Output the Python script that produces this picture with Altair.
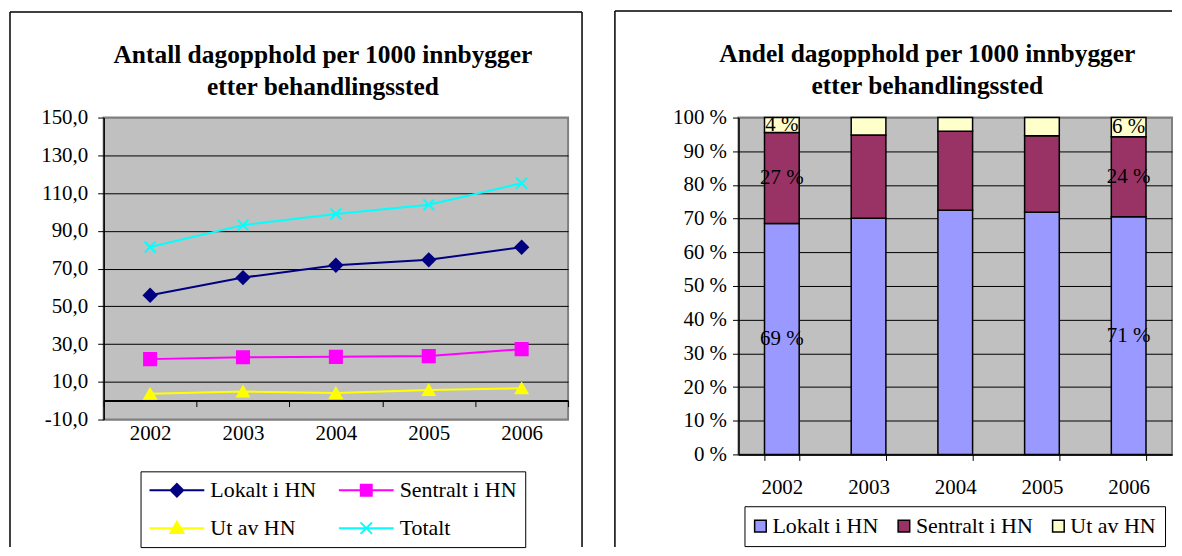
import altair as alt
import pandas as pd

# ---------------- data ----------------
years = ["2002", "2003", "2004", "2005", "2006"]
series = ["Lokalt i HN", "Sentralt i HN", "Ut av HN", "Totalt"]
lokalt = [55.8, 65.2, 71.7, 74.6, 81.3]
sentralt = [22.0, 23.0, 23.2, 23.6, 27.3]
ut_av = [3.6, 4.8, 4.0, 5.6, 6.6]
totalt = [81.4, 93.0, 98.9, 103.8, 115.2]

left_title = ["Antall dagopphold per 1000 innbygger", "etter behandlingssted"]
right_title = ["Andel dagopphold per 1000 innbygger", "etter behandlingssted"]
left_ticks = [-10, 10, 30, 50, 70, 90, 110, 130, 150]
right_ticks = [0, 10, 20, 30, 40, 50, 60, 70, 80, 90, 100]
label_years = ["2002", "2006"]

line_colors = ["#000080", "#FF00FF", "#FFFF00", "#00FFFF"]
bar_colors = ["#9999FF", "#993366", "#FFFFCC"]

FONT = "Liberation Serif"

# ---------------- tables ----------------
rows = []
for i, yr in enumerate(years):
    for s, arr in zip(series, [lokalt, sentralt, ut_av, totalt]):
        rows.append({"year": yr, "series": s, "value": arr[i]})
left_df = pd.DataFrame(rows)

rrows = []
for i, yr in enumerate(years):
    parts = [lokalt[i], sentralt[i], ut_av[i]]
    tot = sum(parts)
    cum = 0.0
    for s, v in zip(series[:3], parts):
        pct = v / tot * 100
        rrows.append({"year": yr, "series": s, "lo": cum, "hi": cum + pct,
                      "mid": cum + pct / 2, "label": f"{round(pct)} %"})
        cum += pct
right_df = pd.DataFrame(rrows)

one_row = alt.Data(values=[{}])


def frame_rule(x, y, x2=None, y2=None):
    enc = {"x": alt.value(x), "y": alt.value(y)}
    if x2 is not None:
        enc["x2"] = alt.value(x2)
    if y2 is not None:
        enc["y2"] = alt.value(y2)
    return alt.Chart(one_row).mark_rule(color="black", strokeWidth=1.5).encode(**enc)


# ---------------- left chart ----------------
marker_shapes = ["diamond", "square", "triangle-up", "M-1,-1L1,1M-1,1L1,-1"]
marker_sizes = [160, 120, 170, 130]
legend_paths = [
    "M-1,0H1M0,-0.23L0.23,0L0,0.23L-0.23,0Z",
    "M-1,0H1M-0.2,-0.2H0.2V0.2H-0.2Z",
    "M-1,0H1M0,-0.23L0.24,0.18L-0.24,0.18Z",
    "M-1,0H1M-0.21,-0.21L0.21,0.21M-0.21,0.21L0.21,-0.21",
]

xl = alt.X(
    "year:N", sort=years, bandPosition=0.5,
    scale=alt.Scale(type="band", domain=years, paddingInner=0, paddingOuter=0),
    axis=alt.Axis(title=None, orient="bottom", offset=-19, domainColor="black",
                  domainWidth=2, ticks=True, tickBand="extent", tickSize=6,
                  tickColor="black", tickWidth=1, labelAngle=0, labelPadding=16,
                  labelFont=FONT, labelFontSize=21, labelColor="black", grid=False),
)
yl = alt.Y(
    "value:Q",
    scale=alt.Scale(domain=[-10, 150], nice=False, zero=False),
    axis=alt.Axis(title=None, values=left_ticks,
                  labelExpr="replace(replace(format(datum.value, '.1f'), '.', ','), '\u2212', '-')",
                  grid=True,
                  gridColor={"condition": {"test": "datum.value === -10 || datum.value === 150",
                                           "value": "#808080"}, "value": "black"},
                  gridWidth=1, domainColor="black", domainWidth=1.5, tickSize=6,
                  tickColor="black", labelPadding=10, labelFont=FONT,
                  labelFontSize=21, labelColor="black"),
)

lines = alt.Chart(left_df).mark_line(strokeWidth=2).encode(
    x=xl, y=yl,
    stroke=alt.Stroke("series:N", scale=alt.Scale(domain=series, range=line_colors), legend=None),
)
points = alt.Chart(left_df).mark_point(filled=True, strokeWidth=2, opacity=1).encode(
    x=xl, y=yl,
    fill=alt.Fill("series:N", scale=alt.Scale(domain=series, range=line_colors), legend=None),
    stroke=alt.Stroke("series:N", scale=alt.Scale(domain=series, range=line_colors), legend=None),
    shape=alt.Shape("series:N", scale=alt.Scale(domain=series, range=marker_shapes), legend=None),
    size=alt.Size("series:N", scale=alt.Scale(domain=series, range=marker_sizes), legend=None),
)
leg_l = alt.Legend(title=None, orient="none", legendX=37, legendY=355, columns=2,
                   direction="horizontal",
                   symbolSize=3025, symbolStrokeWidth=2, clipHeight=22,
                   labelFont=FONT, labelFontSize=22, labelColor="black", labelOffset=5,
                   rowPadding=16, columnPadding=21, padding=8,
                   strokeColor="black", fillColor="white")
legend_layer = alt.Chart(left_df).transform_filter("false").mark_point(
    filled=True, strokeWidth=2, opacity=1
).encode(
    x=xl, y=yl,
    fill=alt.Fill("series:N", scale=alt.Scale(domain=series, range=line_colors), legend=leg_l),
    stroke=alt.Stroke("series:N", scale=alt.Scale(domain=series, range=line_colors), legend=leg_l),
    shape=alt.Shape("series:N", scale=alt.Scale(domain=series, range=legend_paths), legend=leg_l),
)

left = alt.layer(
    frame_rule(-94, -106, y2=431),
    frame_rule(-94, -106, x2=480),
    frame_rule(480, -106, y2=431),
    lines, points, legend_layer,
).resolve_scale(
    fill="independent", stroke="independent", shape="independent", size="independent"
).properties(
    width=466, height=303,
    title=alt.TitleParams(text=left_title, font=FONT, fontSize=25.5, fontWeight="bold",
                          color="black", anchor="middle", frame="group", offset=-90,
                          dx=-13, lineHeight=32),
)

# ---------------- right chart ----------------
xr = alt.X(
    "year:N", sort=years,
    scale=alt.Scale(type="band", domain=years, paddingInner=0.6, paddingOuter=0.3),
    axis=alt.Axis(title=None, domainColor="black", domainWidth=1.5, tickBand="extent",
                  tickSize=6, tickColor="black", labelAngle=0, labelPadding=16,
                  labelFont=FONT, labelFontSize=21, labelColor="black", grid=False),
)


def yr_enc(field):
    return alt.Y(
        f"{field}:Q",
        scale=alt.Scale(domain=[0, 100], nice=False),
        axis=alt.Axis(title=None, values=right_ticks, labelExpr="datum.value + ' %'",
                      grid=True,
                      gridColor={"condition": {"test": "datum.value === 100", "value": "#808080"},
                                 "value": "black"},
                      gridWidth=1, domainColor="black", domainWidth=1.5, tickSize=6,
                      tickColor="black", labelPadding=6, labelFont=FONT,
                      labelFontSize=21, labelColor="black"),
    )


leg_r = alt.Legend(title=None, orient="none", legendX=6, legendY=390, direction="horizontal",
                   symbolType="square", symbolSize=135, symbolStrokeColor="black",
                   symbolStrokeWidth=1.5, symbolOffset=-4, labelFont=FONT, labelFontSize=22,
                   labelColor="black", labelOffset=1, columnPadding=16, padding=9,
                   strokeColor="black", fillColor="white")

bars = alt.Chart(right_df).mark_bar(stroke="black", strokeWidth=1.5).encode(
    x=xr, y=yr_enc("lo"), y2="hi:Q",
    fill=alt.Fill("series:N", scale=alt.Scale(domain=series[:3], range=bar_colors), legend=leg_r),
)
labels = alt.Chart(right_df).transform_filter(
    alt.FieldOneOfPredicate(field="year", oneOf=label_years)
).mark_text(font=FONT, fontSize=21, color="black").encode(
    x=xr, y=yr_enc("mid"), text="label:N"
)

right = alt.layer(
    frame_rule(-124, -107, y2=431),
    frame_rule(-124, -107, x2=435),
    bars, labels,
).properties(
    width=435, height=338,
    title=alt.TitleParams(text=right_title, font=FONT, fontSize=25.5, fontWeight="bold",
                          color="black", anchor="middle", frame="group", offset=-90,
                          dx=-28, lineHeight=32),
)

chart = alt.hconcat(left, right, spacing=29).resolve_scale(
    fill="independent", stroke="independent", shape="independent", size="independent"
).resolve_legend(
    fill="independent", stroke="independent", shape="independent", size="independent"
).properties(
    padding={"left": 0, "top": 0, "right": 0, "bottom": 0},
    background="white",
).configure_view(fill="#C0C0C0", stroke="#808080", strokeWidth=2)

chart.save("out.html", embed_options={"renderer": "svg", "actions": False})
